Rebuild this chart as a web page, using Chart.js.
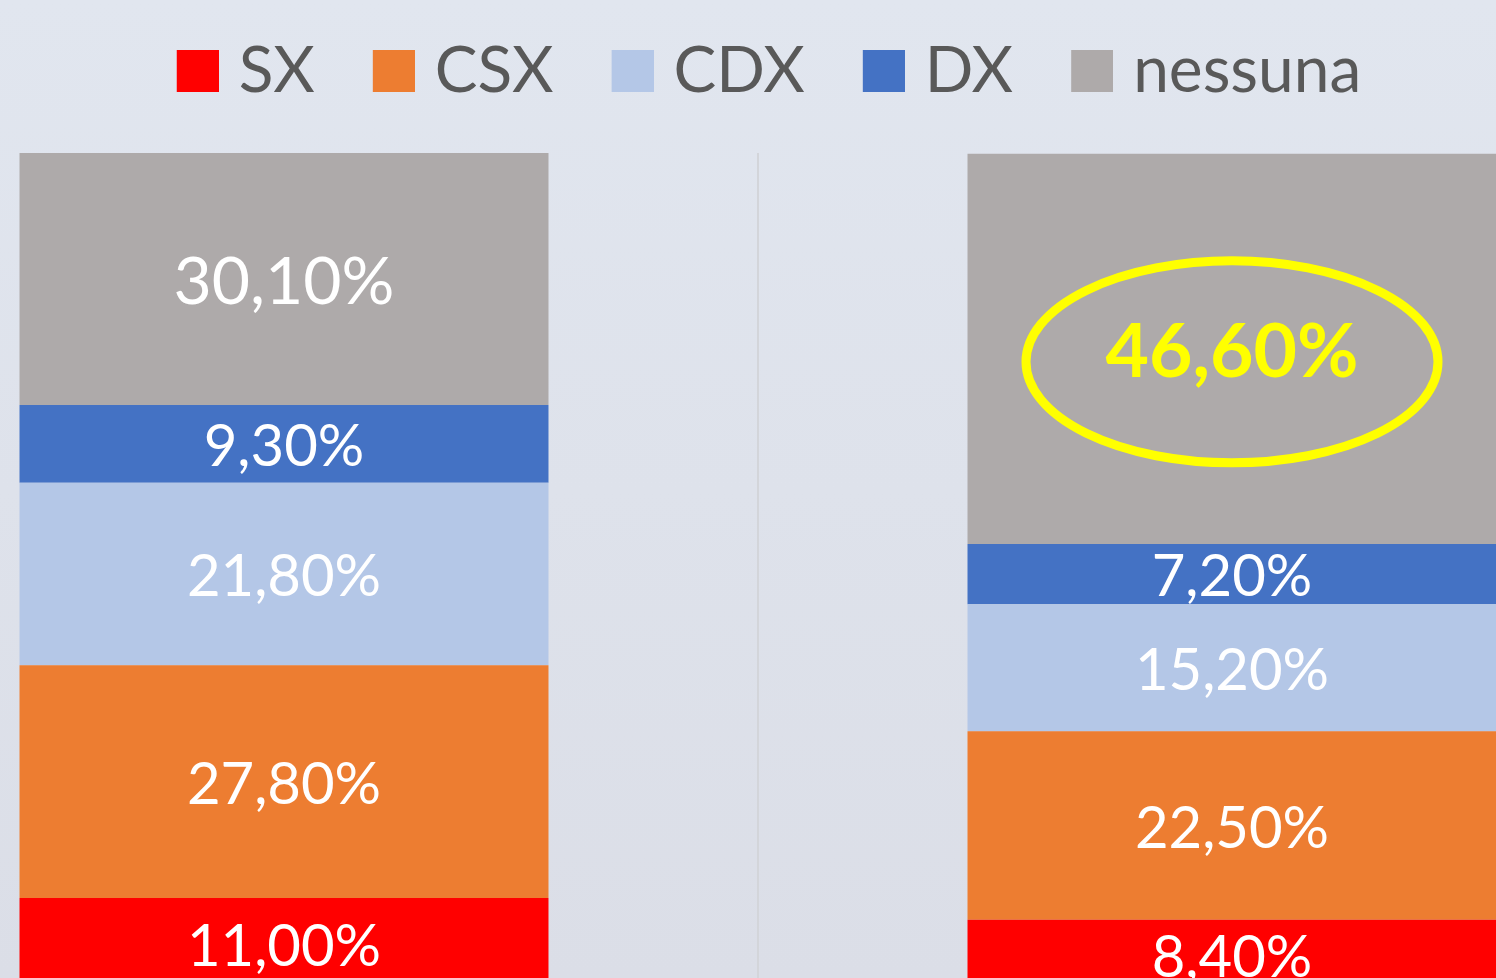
<!DOCTYPE html>
<html><head><meta charset="utf-8">
<script src="https://cdn.jsdelivr.net/npm/chart.js@4.4.0/dist/chart.umd.min.js"></script>
<style>
html,body{margin:0;padding:0;width:1496px;height:978px;overflow:hidden;}
body{background:linear-gradient(180deg,#e1e6ef 0%,#dbdee7 100%);position:relative;}
#wrap{position:absolute;left:-190px;top:0;width:1896px;height:1000px;}
</style></head><body>
<div id="wrap"><canvas id="c"></canvas></div>
<script>
const categories = ['Gruppo 1', 'Gruppo 2'];
const seriesNames = ['SX', 'CSX', 'CDX', 'DX', 'nessuna'];
const SX = [11.0, 8.4];
const CSX = [27.8, 22.5];
const CDX = [21.8, 15.2];
const DX = [9.3, 7.2];
const nessuna = [30.1, 46.6];
const seriesValues = [SX, CSX, CDX, DX, nessuna];
const seriesColors = ['#FF0000', '#ED7D31', '#B4C7E7', '#4472C4', '#AEAAAA'];

const FONT = 'Lato';
const LFS = 64;

function fmt(v){ return v.toFixed(2).replace('.', ',') + '%'; }

function labelStyle(di, i){
  if (di === 4 && i === 1) return { font: 'bold 75px ' + FONT, color: '#FFFF00', dy: 4, ring: true };
  if (di === 4 && i === 0) return { font: '66px ' + FONT, color: '#FFFFFF', dy: 4, ring: false };
  return { font: '58px ' + FONT, color: '#FFFFFF', dy: 3.5, ring: false };
}

function legendSwatch(color){
  const c = document.createElement('canvas');
  c.width = 76; c.height = 42;
  const g = c.getContext('2d');
  g.fillStyle = color;
  g.fillRect(34, 0, 42, 42);
  return c;
}
const swatches = seriesColors.map(legendSwatch);

const valueLabels = {
  id: 'valueLabels',
  afterDatasetsDraw(chart){
    const ctx = chart.ctx;
    chart.data.datasets.forEach((ds, di) => {
      const meta = chart.getDatasetMeta(di);
      meta.data.forEach((el, i) => {
        const v = ds.data[i];
        const p = el.getProps(['x', 'y', 'base'], true);
        const cy = (p.y + p.base) / 2;
        const st = labelStyle(di, i);
        ctx.save();
        ctx.font = st.font;
        ctx.fillStyle = st.color;
        ctx.textAlign = 'center';
        ctx.textBaseline = 'middle';
        ctx.fillText(fmt(v), p.x, cy + st.dy);
        if (st.ring) {
          ctx.strokeStyle = '#FFFF00';
          ctx.lineWidth = 9;
          ctx.beginPath();
          ctx.ellipse(p.x, cy + 13, 206, 101, 0, 0, Math.PI * 2);
          ctx.stroke();
        }
        ctx.restore();
      });
    });
  }
};

function draw(){
  new Chart(document.getElementById('c'), {
    type: 'bar',
    data: {
      labels: categories,
      datasets: seriesNames.map((n, i) => ({
        label: n,
        data: seriesValues[i],
        backgroundColor: seriesColors[i],
        borderWidth: 0,
        categoryPercentage: 1,
        barPercentage: 0.558
      }))
    },
    options: {
      responsive: true,
      maintainAspectRatio: false,
      animation: false,
      layout: { padding: { top: 3, bottom: 10, left: 0, right: 0 } },
      scales: {
        x: {
          stacked: true,
          position: 'top',
          ticks: { display: false },
          grid: { offset: true, drawTicks: false, color: '#d3d5da', lineWidth: 2 },
          border: { display: false },
          afterFit: (s) => { s.height = 40; }
        },
        y: {
          stacked: true,
          display: false,
          min: 0,
          max: 100
        }
      },
      plugins: {
        tooltip: { enabled: false },
        legend: {
          position: 'top',
          align: 'center',
          labels: {
            usePointStyle: true,
            pointStyleWidth: 52,
            padding: 36,
            color: '#595959',
            font: { family: FONT, size: LFS },
            generateLabels: (chart) => Chart.defaults.plugins.legend.labels.generateLabels(chart)
              .map((l, i) => Object.assign(l, { pointStyle: swatches[i] }))
          }
        }
      }
    },
    plugins: [valueLabels]
  });
}
Promise.all([
  document.fonts.load('58px ' + FONT),
  document.fonts.load('66px ' + FONT),
  document.fonts.load('bold 75px ' + FONT)
]).then(draw, draw);
</script>
</body></html>
